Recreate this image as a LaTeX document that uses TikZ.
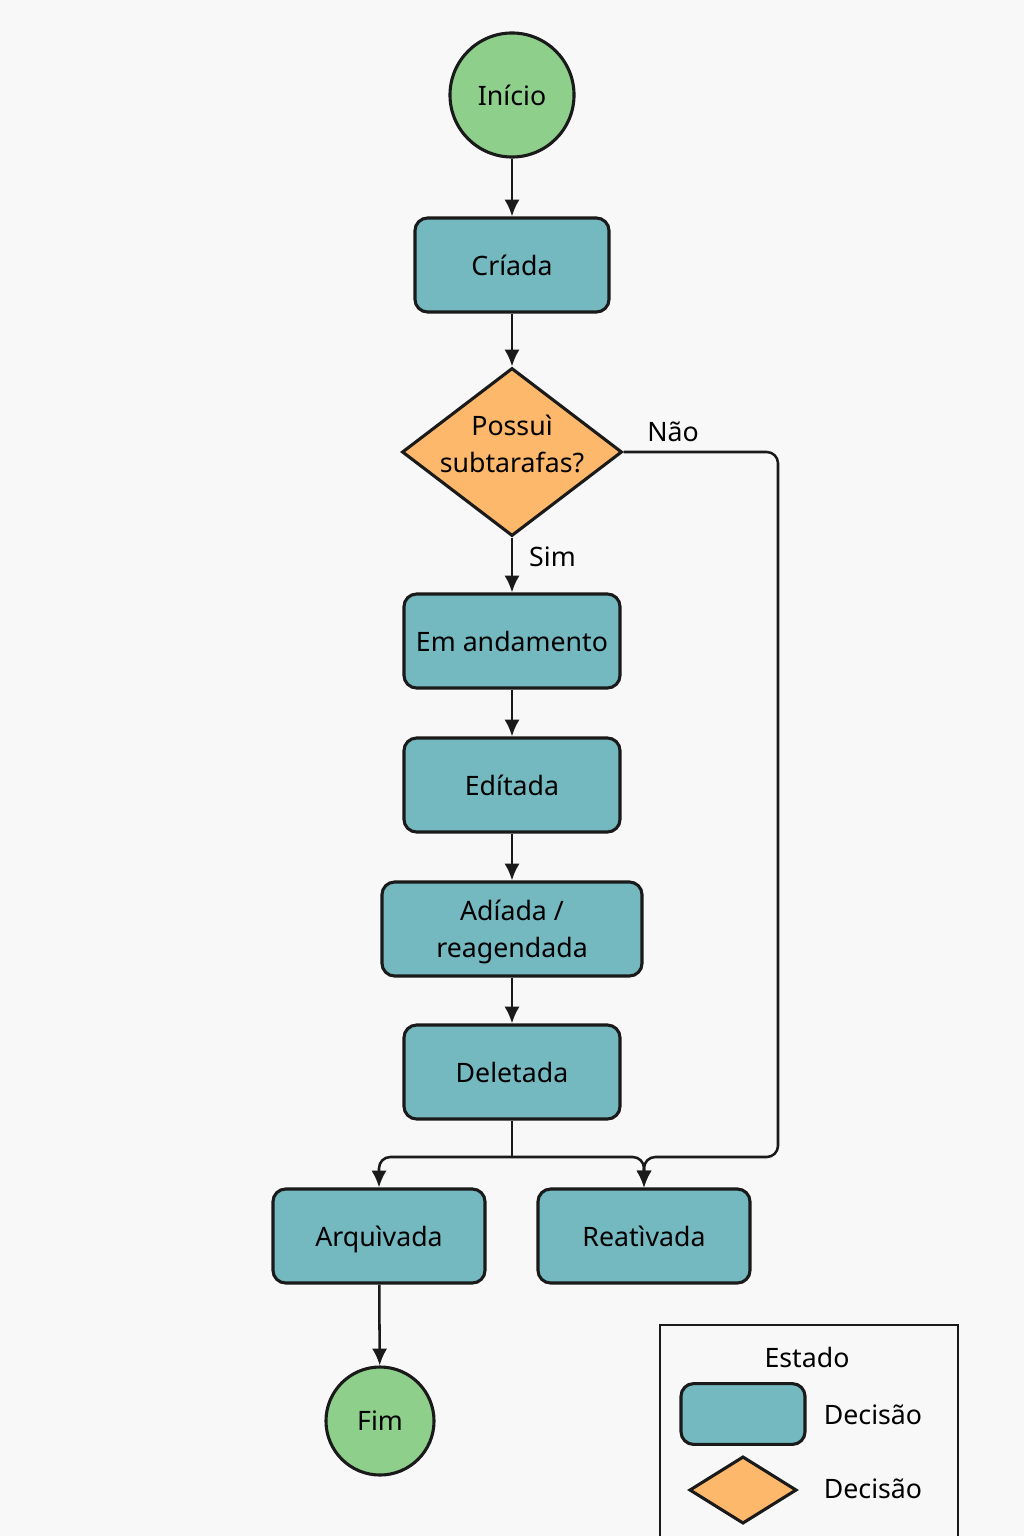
\documentclass[tikz,border=0pt]{standalone}
\usepackage{fontspec}
\setmainfont{Noto Sans}
\usepackage{xcolor}
\usetikzlibrary{calc,arrows.meta}
\usetikzlibrary{shapes.geometric}

\definecolor{statefill}{HTML}{74B8C0}
\definecolor{decfill}{HTML}{FDB86B}
\definecolor{endfill}{HTML}{8FCF8C}
\definecolor{bgpaper}{HTML}{F8F8F8}
\definecolor{inkline}{HTML}{1A1A1A}

\tikzset{
	estado/.style={draw=inkline, line width=2.2pt, fill=statefill, rounded corners=9pt, minimum height=2.35cm, align=center, inner sep=0pt},
	decisao/.style={draw=inkline, line width=2.2pt, fill=decfill, diamond, inner sep=0pt},
	terminal/.style={draw=inkline, line width=2.2pt, fill=endfill, circle, inner sep=0pt},
	fluxo/.style={draw=inkline, line width=1.8pt, -{Latex[length=0.42cm,width=0.38cm]}},
	ramo/.style={draw=inkline, line width=1.8pt}
}

\begin{document}
\begin{tikzpicture}[x=0.025cm,y=-0.025cm,font=\fontsize{19}{26.5}\selectfont]
				\useasboundingbox (0,0) rectangle (1024,1536);
				\fill[bgpaper] (0,0) rectangle (1024,1536);
				\node[terminal, minimum size=3.1cm] (ini) at (512,95){Início};
				\node[estado, minimum width=4.85cm] (cri) at (512,265){Críada};
				\node[decisao, minimum width=5.5cm, minimum height=4.2cm, label={[align=center, yshift=0.2cm]center:Possuì\\subtarafas?}] (dec) at (512,452){};
				\node[estado, minimum width=5.4cm] (and) at (512,641){Em andamento};
				\node[estado, minimum width=5.4cm] (edi) at (512,785){Edítada};
				\node[estado, minimum width=6.5cm, text depth=0pt] (adi) at (512,929){Adíada /\\reagendada};
				\node[estado, minimum width=5.4cm] (del) at (512,1072){Deletada};
				\node[estado, minimum width=5.3cm, text depth=0pt] (arq) at (379,1236){Arquìvada};
				\node[estado, minimum width=5.3cm] (rea) at (644,1236){Reatìvada};
				\node[terminal, minimum size=2.7cm] (fim) at (380,1421){Fim};
				\coordinate (split) at (512,1157);
				\draw[fluxo] (ini)--(cri);
				\draw[fluxo] (cri)--(dec);
				\draw[fluxo] (dec)--node[right, xshift=8pt, yshift=6pt]{Sim}(and);
				\draw[fluxo] (and)--(edi);
				\draw[fluxo] (edi)--(adi);
				\draw[fluxo] (adi)--(del);
				\draw[ramo] (del)--(split);
				\draw[fluxo, rounded corners=8pt] (split)-|(arq);
				\draw[fluxo, rounded corners=8pt] (split)-|(rea);
				\draw[fluxo, rounded corners=8pt] (dec.east)--node[above, pos=0.32, yshift=3pt]{Não}(778,452)--(778,1157)-|(rea);
				\draw[fluxo] (arq)--(fim);
				\draw[draw=inkline, line width=1.6pt] (660,1325) rectangle (958,1570);
				\node (leg) at (807,1357){Estado};
				\node[estado, minimum width=3.1cm, minimum height=1.52cm] (legest) at (743,1414){};
				\node (legestt) at (873,1415){Decisão};
				\node[decisao, minimum width=2.68cm, minimum height=1.68cm] (legdec) at (743,1490){};
				\node (legdect) at (873,1489){Decisão};
			\end{tikzpicture}
\end{document}
